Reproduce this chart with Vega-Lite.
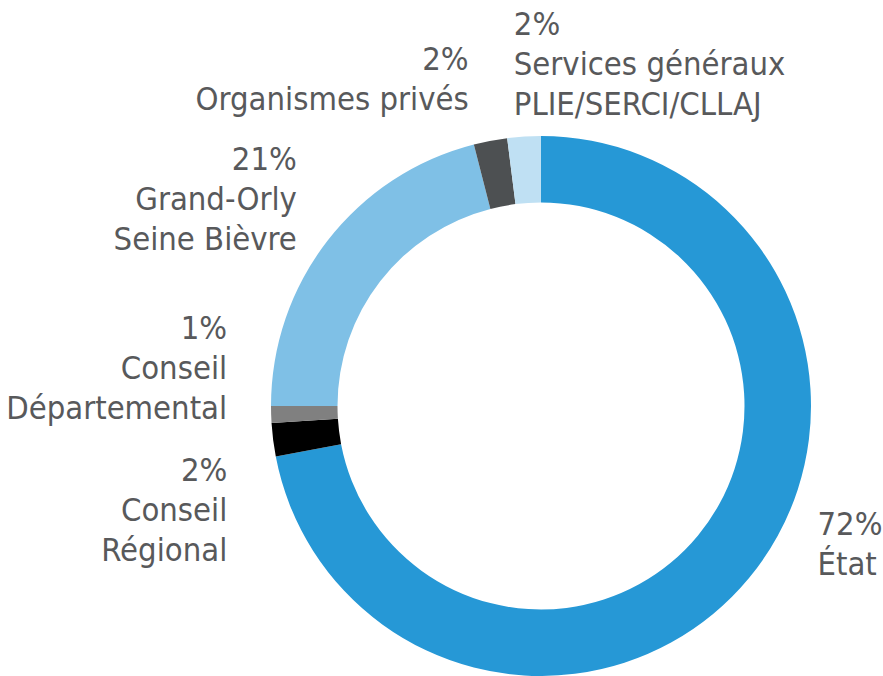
{
  "$schema": "https://vega.github.io/schema/vega-lite/v6.json",
  "width": 684,
  "height": 540,
  "autosize": {"type": "none"},
  "padding": {"left": 199, "top": 136, "right": 0, "bottom": 0},
  "background": "white",
  "config": {
    "view": {"stroke": null},
    "text": {
      "font": "DejaVu Sans Condensed",
      "fontSize": 32.5,
      "fill": "#58595b",
      "baseline": "alphabetic",
      "lineBreak": "\n",
      "lineHeight": 40,
      "radius": 290
    }
  },
  "data": {
    "values": [
      {"poste": "État", "nom": "État", "value": 72, "ordre": 1},
      {"poste": "Conseil Régional", "nom": "Conseil\nRégional", "value": 2, "ordre": 2},
      {"poste": "Conseil Départemental", "nom": "Conseil\nDépartemental", "value": 1, "ordre": 3},
      {"poste": "Grand-Orly Seine Bièvre", "nom": "Grand-Orly\nSeine Bièvre", "value": 21, "ordre": 4},
      {"poste": "Organismes privés", "nom": "Organismes privés", "value": 2, "ordre": 5},
      {"poste": "Services généraux", "nom": "Services généraux\nPLIE/SERCI/CLLAJ", "value": 2, "ordre": 6}
    ]
  },
  "transform": [
    {"stack": "value", "groupby": [], "as": ["v0", "v1"], "sort": [{"field": "ordre", "order": "ascending"}]},
    {"calculate": "(datum.v0 + datum.v1) / 2", "as": "milieu"},
    {"calculate": "datum.value + '%\\n' + datum.nom", "as": "etiquette"}
  ],
  "layer": [
    {
      "mark": {"type": "arc", "outerRadius": 270, "innerRadius": 203.5},
      "encoding": {
        "theta": {"field": "v0", "type": "quantitative", "scale": {"domain": [0, 100]}},
        "theta2": {"field": "v1"},
        "color": {
          "field": "poste",
          "type": "nominal",
          "scale": {
            "domain": ["État", "Conseil Régional", "Conseil Départemental", "Grand-Orly Seine Bièvre", "Organismes privés", "Services généraux"],
            "range": ["#2698d6", "#000000", "#808080", "#7fc0e6", "#4d5052", "#bfe0f3"]
          },
          "legend": null
        }
      }
    },
    {
      "transform": [{"filter": "datum.ordre == 1"}],
      "mark": {"type": "text", "align": "left", "dx": 53, "dy": -56},
      "encoding": {
        "theta": {"field": "milieu", "type": "quantitative", "scale": {"domain": [0, 100]}},
        "text": {"field": "etiquette"}
      }
    },
    {
      "transform": [{"filter": "datum.ordre == 2"}],
      "mark": {"type": "text", "align": "right", "dx": -26, "dy": 39},
      "encoding": {
        "theta": {"field": "milieu", "type": "quantitative", "scale": {"domain": [0, 100]}},
        "text": {"field": "etiquette"}
      }
    },
    {
      "transform": [{"filter": "datum.ordre == 3"}],
      "mark": {"type": "text", "align": "right", "dx": -24, "dy": -76},
      "encoding": {
        "theta": {"field": "milieu", "type": "quantitative", "scale": {"domain": [0, 100]}},
        "text": {"field": "etiquette"}
      }
    },
    {
      "transform": [{"filter": "datum.ordre == 4"}],
      "mark": {"type": "text", "align": "right", "dx": -15, "dy": -58},
      "encoding": {
        "theta": {"field": "milieu", "type": "quantitative", "scale": {"domain": [0, 100]}},
        "text": {"field": "etiquette"}
      }
    },
    {
      "transform": [{"filter": "datum.ordre == 5"}],
      "mark": {"type": "text", "align": "right", "dx": -18, "dy": -51},
      "encoding": {
        "theta": {"field": "milieu", "type": "quantitative", "scale": {"domain": [0, 100]}},
        "text": {"field": "etiquette"}
      }
    },
    {
      "transform": [{"filter": "datum.ordre == 6"}],
      "mark": {"type": "text", "align": "left", "dx": -9, "dy": -82},
      "encoding": {
        "theta": {"field": "milieu", "type": "quantitative", "scale": {"domain": [0, 100]}},
        "text": {"field": "etiquette"}
      }
    }
  ]
}
